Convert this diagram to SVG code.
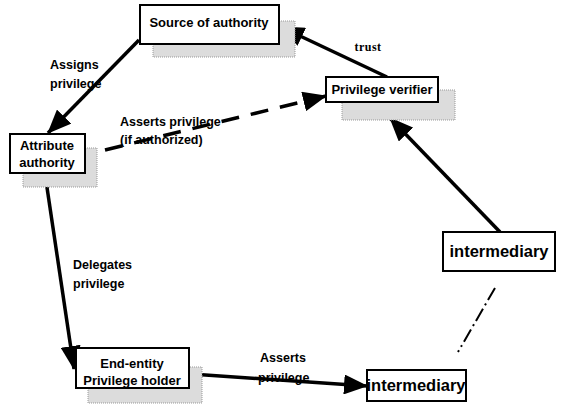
<svg xmlns="http://www.w3.org/2000/svg" width="562" height="413" viewBox="0 0 562 413">
<style>
.box{fill:#fff;stroke:#000;stroke-width:2}
.sh{fill:#dcdcdc;stroke:#999;stroke-width:1;stroke-dasharray:1 1}
.t{font-family:"Liberation Sans",Arial,sans-serif;font-weight:bold;font-size:13px;fill:#000}
.big{font-size:16.5px}
.lbl{font-family:"Liberation Sans",Arial,sans-serif;font-weight:bold;font-size:12.5px;fill:#000}
.ln{stroke:#000;stroke-width:3.5;fill:none}
</style>
<defs>
<marker id="ah" markerUnits="userSpaceOnUse" markerWidth="24" markerHeight="20" refX="23" refY="10" orient="auto">
<path d="M0,0 L24,10 L0,20 z" fill="#000"/>
</marker>
</defs>
<rect width="562" height="413" fill="#fff"/>
<g id="connectors">
<line class="ln" x1="139" y1="40" x2="48" y2="133" marker-end="url(#ah)"/>
<line class="ln" x1="387" y1="77" x2="281" y2="27" marker-end="url(#ah)"/>
<line class="ln" x1="500" y1="232" x2="390" y2="118" marker-end="url(#ah)"/>
<line class="ln" x1="105" y1="150" x2="326" y2="96" stroke-dasharray="18 12" marker-end="url(#ah)"/>
<line class="ln" x1="45" y1="174" x2="74" y2="369" marker-end="url(#ah)"/>
<line class="ln" x1="191" y1="374" x2="367" y2="386" marker-end="url(#ah)"/>
<line x1="495" y1="288" x2="458" y2="352" stroke="#000" stroke-width="2" stroke-dasharray="14 4 2 4"/>
</g>
<g id="source">
<rect class="sh" x="153" y="21" width="142" height="36"/>
<rect class="box" x="140" y="5" width="139" height="39"/>
<text class="t" x="209" y="27" text-anchor="middle">Source of authority</text>
</g>
<g id="verifier">
<rect class="sh" x="342" y="90" width="113" height="30"/>
<rect class="box" x="326" y="77" width="112" height="25"/>
<text class="t" x="382" y="94" text-anchor="middle">Privilege verifier</text>
</g>
<g id="attribute">
<rect class="sh" x="23" y="148" width="74" height="39"/>
<rect class="box" x="10" y="134" width="75" height="39"/>
<text class="t" x="47" y="150" text-anchor="middle">Attribute</text>
<text class="t" x="47" y="167" text-anchor="middle">authority</text>
</g>
<g id="endentity">
<rect class="sh" x="88" y="367" width="114" height="36"/>
<rect class="box" x="76" y="348" width="113" height="40"/>
<text class="t" x="132" y="368" text-anchor="middle">End-entity</text>
<text class="t" x="132" y="385" text-anchor="middle">Privilege holder</text>
</g>
<g id="intermediary-bottom">
<rect class="box" x="367" y="370" width="99" height="31"/>
<text class="t big" x="416" y="391" text-anchor="middle">intermediary</text>
</g>
<g id="intermediary-right">
<rect class="box" x="443" y="232" width="112" height="39"/>
<text class="t big" x="499" y="257" text-anchor="middle">intermediary</text>
</g>
<g id="labels">
<text x="368" y="51" text-anchor="middle" font-family="Liberation Serif,serif" font-weight="bold" font-size="12" letter-spacing="0.5">trust</text>
<text class="lbl" x="50" y="69">Assigns</text>
<text class="lbl" x="50" y="88">privilege</text>
<text class="lbl" x="120" y="126">Asserts privilege</text>
<text class="lbl" x="120" y="144">(if authorized)</text>
<text class="lbl" x="73" y="269">Delegates</text>
<text class="lbl" x="73" y="288">privilege</text>
<text class="lbl" x="260" y="362">Asserts</text>
<text class="lbl" x="258" y="382">privilege</text>
</g>
</svg>
